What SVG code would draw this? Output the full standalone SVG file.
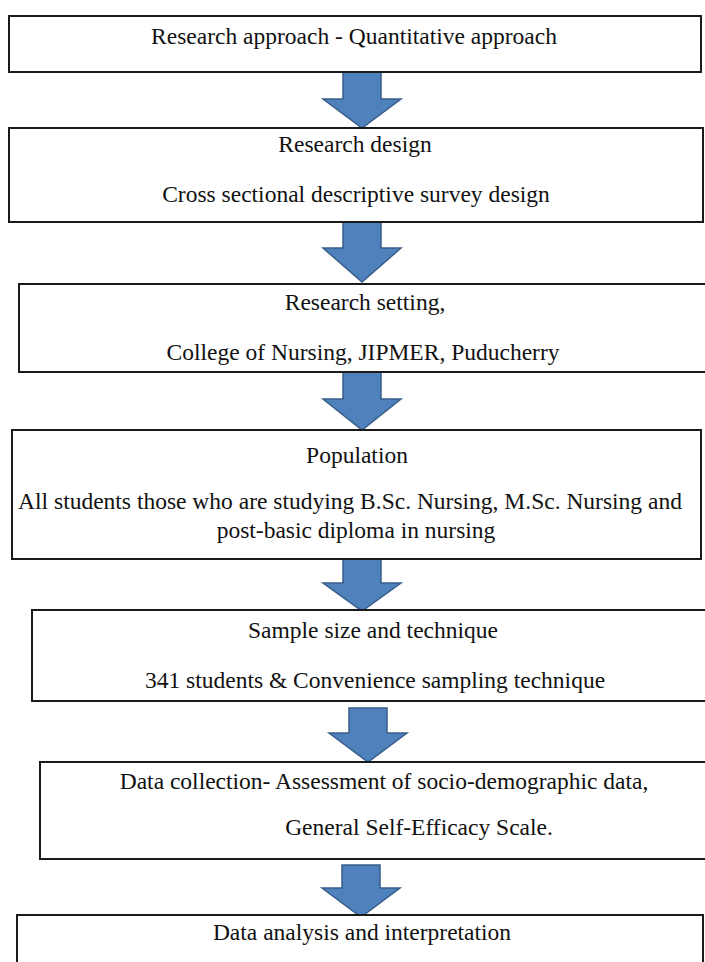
<svg xmlns="http://www.w3.org/2000/svg" width="705" height="962" viewBox="0 0 705 962">
<style>
.box{fill:#fff;stroke:#1a1a1a;stroke-width:2}
.arr{fill:#4f81bd;stroke:#385d8a;stroke-width:1.5;stroke-linejoin:miter}
.t{font-family:"Liberation Serif","Times New Roman",Times,serif;font-size:23.5px;fill:#111;text-anchor:middle}
</style>
<rect width="705" height="962" fill="#fff"/>
<g id="connectors">
<polygon class="arr" points="343,72 381,72 381,99 401,99 362,128 323,99 343,99"/>
<polygon class="arr" points="343,222 381,222 381,248 401,248 362,282 323,248 343,248"/>
<polygon class="arr" points="343,372 381,372 381,399 401,399 362,430 323,399 343,399"/>
<polygon class="arr" points="343,559 381,559 381,583 401,583 362,611 323,583 343,583"/>
<polygon class="arr" points="349,708 387,708 387,733 407,733 368,762 329,733 349,733"/>
<polygon class="arr" points="342,865 380,865 380,888 400,888 361,917 322,888 342,888"/>
</g>
<g id="node1">
<rect class="box" x="9" y="16" width="692" height="56"/>
<text class="t" x="354" y="44">Research approach - Quantitative approach</text>
</g>
<g id="node2">
<rect class="box" x="9" y="128" width="694" height="94"/>
<text class="t" x="355" y="152">Research design</text>
<text class="t" x="356" y="202">Cross sectional descriptive survey design</text>
</g>
<g id="node3">
<rect class="box" x="19" y="284" width="700" height="88"/>
<text class="t" x="365" y="310">Research setting,</text>
<text class="t" x="363" y="360">College of Nursing, JIPMER, Puducherry</text>
</g>
<g id="node4">
<rect class="box" x="12" y="430" width="689" height="129"/>
<text class="t" x="357" y="463">Population</text>
<text class="t" x="350" y="509">All students those who are studying B.Sc. Nursing, M.Sc. Nursing and</text>
<text class="t" x="356" y="538">post-basic diploma in nursing</text>
</g>
<g id="node5">
<rect class="box" x="32" y="610" width="690" height="91"/>
<text class="t" x="373" y="638">Sample size and technique</text>
<text class="t" x="375" y="688">341 students &amp; Convenience sampling technique</text>
</g>
<g id="node6">
<rect class="box" x="40" y="762" width="690" height="97"/>
<text class="t" x="384" y="789">Data collection- Assessment of socio-demographic data,</text>
<text class="t" x="419" y="835">General Self-Efficacy Scale.</text>
</g>
<g id="node7">
<rect class="box" x="17" y="915" width="686" height="60"/>
<text class="t" x="362" y="940">Data analysis and interpretation</text>
</g>
</svg>
